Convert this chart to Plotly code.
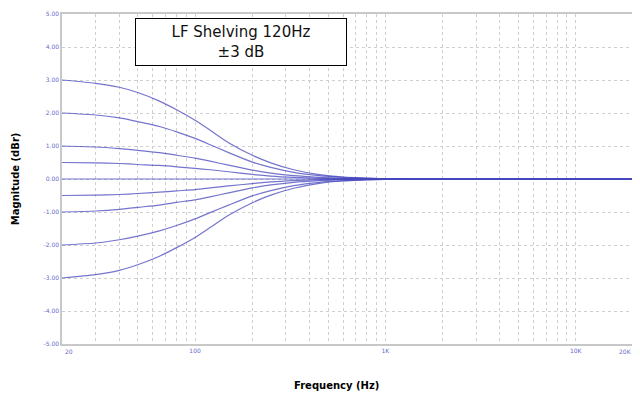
import plotly.graph_objects as go

# frequency points (Hz)
freqs = [20, 30, 40, 50, 65, 80, 100, 120, 150, 200, 250, 330, 450, 600, 800, 1000, 1500, 20000]

# magnitude (dBr) for each shelf gain setting
boost_3 = [3.00, 2.90, 2.78, 2.62, 2.36, 2.10, 1.78, 1.48, 1.10, 0.72, 0.49, 0.28, 0.13, 0.06, 0.03, 0.01, 0.0, 0.0]
boost_2 = [2.00, 1.94, 1.85, 1.74, 1.59, 1.43, 1.23, 1.04, 0.80, 0.51, 0.35, 0.20, 0.10, 0.05, 0.02, 0.01, 0.0, 0.0]
boost_1 = [1.00, 0.97, 0.92, 0.87, 0.80, 0.72, 0.63, 0.54, 0.42, 0.27, 0.18, 0.10, 0.05, 0.02, 0.01, 0.0, 0.0, 0.0]
boost_05 = [0.50, 0.49, 0.47, 0.44, 0.41, 0.37, 0.32, 0.28, 0.22, 0.14, 0.09, 0.05, 0.02, 0.01, 0.0, 0.0, 0.0, 0.0]
flat_0 = [0.0] * len(freqs)
cut_05 = [-0.50, -0.49, -0.47, -0.44, -0.40, -0.36, -0.32, -0.27, -0.21, -0.14, -0.09, -0.05, -0.02, -0.01, 0.0, 0.0, 0.0, 0.0]
cut_1 = [-1.00, -0.97, -0.92, -0.86, -0.79, -0.71, -0.63, -0.54, -0.42, -0.27, -0.18, -0.10, -0.05, -0.02, -0.01, 0.0, 0.0, 0.0]
cut_2 = [-2.00, -1.94, -1.84, -1.73, -1.57, -1.41, -1.21, -1.02, -0.79, -0.51, -0.35, -0.20, -0.10, -0.05, -0.02, -0.01, 0.0, 0.0]
cut_3 = [-3.00, -2.90, -2.77, -2.60, -2.34, -2.08, -1.77, -1.47, -1.10, -0.72, -0.49, -0.28, -0.13, -0.06, -0.03, -0.01, 0.0, 0.0]

curves = [boost_3, boost_2, boost_1, boost_05, flat_0, cut_05, cut_1, cut_2, cut_3]

# grid / tick positions
x_grid = [20, 30, 40, 50, 60, 70, 80, 90, 100, 200, 300, 400, 500, 600, 700, 800, 900,
          1000, 2000, 3000, 4000, 5000, 6000, 7000, 8000, 9000, 10000, 20000]
x_labels = {100: "100", 1000: "1K", 10000: "10K"}
y_ticks = [5, 4, 3, 2, 1, 0, -1, -2, -3, -4, -5]

tick_font = dict(size=6, color="#6a6ad0")

fig = go.Figure()

for vals in curves:
    fig.add_trace(
        go.Scatter(
            x=freqs,
            y=vals,
            mode="lines",
            line=dict(color="rgba(70,70,190,0.75)", width=1.2, shape="spline", smoothing=0.7),
            showlegend=False,
            hoverinfo="skip",
        )
    )

# title box
fig.add_annotation(
    text="LF Shelving 120Hz<br>±3 dB",
    xref="paper", yref="paper",
    x=0.128, y=0.988, xanchor="left", yanchor="top",
    showarrow=False,
    font=dict(family="DejaVu Sans, sans-serif", size=15, color="#111111"),
    align="center",
    bgcolor="white",
    bordercolor="black",
    borderwidth=1,
    borderpad=4,
    width=202,
)

# end labels of the frequency axis, pinned to the plot edges so they stay visible
fig.add_annotation(
    text="20", xref="paper", x=0, y=0, yref="paper",
    xanchor="left", yanchor="top", xshift=1, yshift=-2,
    showarrow=False, font=tick_font,
)
fig.add_annotation(
    text="20K", xref="paper", x=1, y=0, yref="paper",
    xanchor="right", yanchor="top", xshift=1, yshift=-2,
    showarrow=False, font=tick_font,
)

# axis titles as plain annotations so the plot area stays put
fig.add_annotation(
    text="<b>Frequency (Hz)</b>",
    xref="paper", yref="paper", x=0.48, y=-0.125,
    xanchor="center", yanchor="middle", showarrow=False,
    font=dict(size=10, color="black"),
)
fig.add_annotation(
    text="<b>Magnitude (dBr)</b>",
    xref="paper", yref="paper", x=-0.082, y=0.5,
    xanchor="center", yanchor="middle", showarrow=False, textangle=-90,
    font=dict(size=10, color="black"),
)

# page body keeps an 8px margin, so the figure is 8px smaller than the window
fig.update_layout(
    width=632,
    height=385,
    paper_bgcolor="white",
    plot_bgcolor="white",
    margin=dict(l=54, r=7, t=6, b=49),
    font=dict(family="DejaVu Sans, sans-serif"),
)

fig.update_xaxes(
    type="log",
    range=[1.30103, 4.30103],
    tickvals=x_grid,
    ticktext=[x_labels.get(v, "") for v in x_grid],
    tickfont=tick_font,
    showgrid=True,
    gridcolor="#cfcfcf",
    griddash="dot",
    gridwidth=1,
    showline=True,
    linecolor="#c8c8c8",
    linewidth=1.5,
    mirror=True,
    ticks="",
    zeroline=False,
    automargin=False,
)
fig.update_yaxes(
    range=[-5, 5],
    tickvals=y_ticks,
    ticktext=[f"{v:.2f}" for v in y_ticks],
    tickfont=tick_font,
    showgrid=True,
    gridcolor="#cfcfcf",
    griddash="dot",
    gridwidth=1,
    showline=True,
    linecolor="#c8c8c8",
    linewidth=1.5,
    mirror=True,
    ticks="",
    zeroline=False,
    automargin=False,
)

fig.write_html("out.html")
